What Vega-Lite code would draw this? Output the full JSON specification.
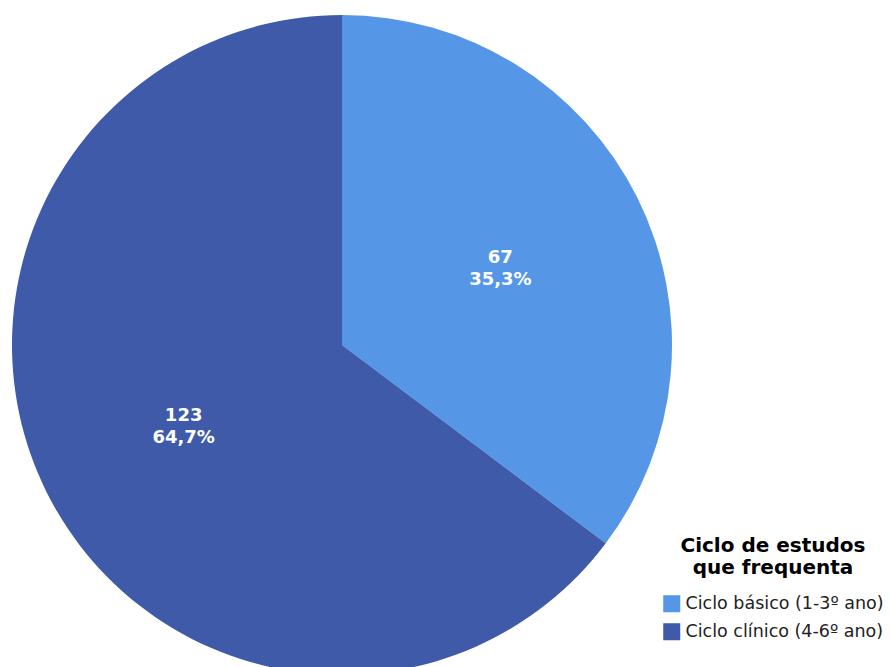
{
  "$schema": "https://vega.github.io/schema/vega-lite/v6.json",
  "autosize": {"type": "none"},
  "width": 660,
  "height": 660,
  "padding": {"left": 12, "top": 15, "right": 219, "bottom": 0},
  "background": "white",
  "config": {"view": {"stroke": null}, "font": "DejaVu Sans"},
  "data": {"values": [
    {"ciclo": "Ciclo básico (1-3º ano)", "n": 67, "label": ["67", "35,3%"], "ord": 1},
    {"ciclo": "Ciclo clínico (4-6º ano)", "n": 123, "label": ["123", "64,7%"], "ord": 2}
  ]},
  "encoding": {
    "theta": {"field": "n", "type": "quantitative", "stack": true},
    "order": {"field": "ord", "type": "quantitative"}
  },
  "layer": [
    {
      "mark": {"type": "arc", "outerRadius": 330},
      "encoding": {
        "color": {
          "field": "ciclo", "type": "nominal",
          "scale": {"domain": ["Ciclo básico (1-3º ano)", "Ciclo clínico (4-6º ano)"], "range": ["#5596E6", "#3E5AA9"]},
          "legend": {
            "title": ["Ciclo de estudos", "que frequenta"],
            "orient": "none",
            "legendX": 651,
            "legendY": 521,
            "titleFont": "DejaVu Sans",
            "titleFontSize": 20,
            "titleFontWeight": "bold",
            "titleColor": "#000000",
            "titleAnchor": "middle",
            "titleAlign": "center",
            "titleLineHeight": 22,
            "titleLimit": 400,
            "titlePadding": 17,
            "labelFontSize": 17.5,
            "labelColor": "#222222",
            "labelFont": "DejaVu Sans",
            "labelLimit": 400,
            "symbolType": "square",
            "symbolSize": 289,
            "symbolStrokeWidth": 0,
            "labelOffset": 5,
            "rowPadding": 9
          }
        }
      }
    },
    {
      "mark": {"type": "text", "radius": 177, "dy": -8, "fill": "white", "font": "DejaVu Sans", "fontWeight": "bold", "fontSize": 18, "lineHeight": 22, "baseline": "middle"},
      "encoding": {"text": {"field": "label"}}
    }
  ]
}
